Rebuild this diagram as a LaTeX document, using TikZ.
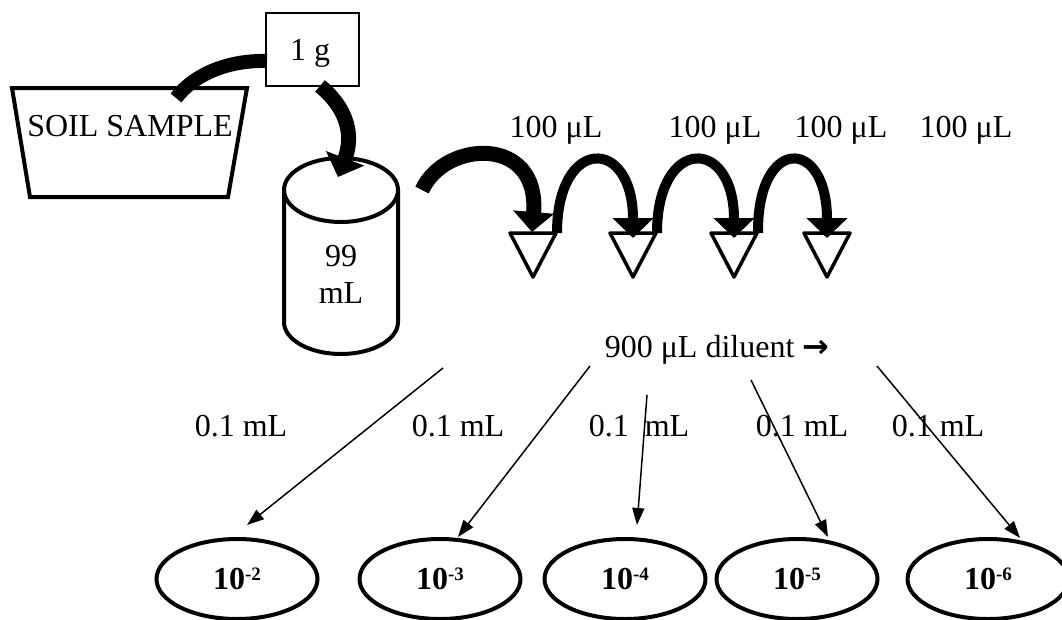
\documentclass[tikz,border=0pt]{standalone}
\usepackage{fontspec}
\setmainfont{Liberation Serif}
\newfontfamily\arrowfont{DejaVu Sans}
\usetikzlibrary{arrows.meta,shapes.geometric}
\newcommand{\dilexp}[1]{10\raisebox{9pt}{\fontsize{19}{21}\selectfont #1}}

\begin{document}
\begin{tikzpicture}[x=1pt,y=-1pt,
  font=\fontsize{32}{38}\selectfont,
  outline/.style={line width=4pt, line join=miter},
  tube/.style={line width=3.5pt, line join=round},
  scoop/.style={line width=14pt},
  lift/.style={line width=15pt, -{Triangle[length=20pt,width=40pt]}},
  hop/.style={line width=10pt, -{Triangle[length=20pt,width=40pt]}},
  pour/.style={line width=1.5pt, -{Triangle[length=17pt,width=12pt]}},
  lbl/.style={inner sep=0pt, anchor=base},
  plate/.style={ellipse, draw, line width=4pt, minimum width=161pt,
    minimum height=80pt, inner sep=0pt,
    font=\bfseries\fontsize{32}{36}\selectfont}]
\useasboundingbox (0,0) rectangle (1062,619);

% soil container
\draw[outline] (12,88) -- (247,88) -- (228,197) -- (30,197) -- cycle;
\node[lbl] (soil) at (130,136) {SOIL SAMPLE};

% weighed portion
\node[draw, line width=1.3pt, minimum width=93pt, minimum height=73pt,
  inner sep=0pt] (gram) at (312.5,49.5) {};
\node[lbl] (gramtxt) at (310,60) {1 g};

% dilution bottle
\draw[outline] (341,190) ellipse [x radius=57pt, y radius=32pt];
\draw[outline] (284,190) -- (284,322)
  .. controls (284,339.7) and (309.5,354) .. (341,354)
  .. controls (372.5,354) and (398,339.7) .. (398,322) -- (398,190);
\node[lbl] (vol) at (341,266) {99};
\node[lbl] (volunit) at (341,303) {mL};

% dilution tubes
\foreach \i/\x in {1/533,2/633,3/734,4/827}{
  \draw[tube] ({\x-23},233) -- ({\x+23},233) -- (\x,277) -- cycle;
  \coordinate (top\i) at (\x,238);
  \coordinate (rim\i) at ({\x+24},233);
}

% transfer arrows
\coordinate (scoopend) at (176,98);
\coordinate (gramside) at (267,61);
\coordinate (gramfoot) at (320,86);
\coordinate (bottletop) at (338,177);
\coordinate (bottleside) at (422,190);
\draw[scoop] (gramside) .. controls (230,60) and (195,73) .. (scoopend);
\draw[lift] (gramfoot) .. controls (347,108) and (354,135) .. (bottletop);
\draw[lift] (bottleside) .. controls (445,140) and (540,135) .. (532,232);
\draw[hop] (rim1) .. controls (557,136) and (633,136) .. (top2);
\draw[hop] (rim2) .. controls (657,136) and (734,136) .. (top3);
\draw[hop] (rim3) .. controls (757,136) and (827,136) .. (top4);

% transfer volumes
\node[lbl] (v1) at (556,137) {100 μL};
\node[lbl] (v2) at (715,137) {100 μL};
\node[lbl] (v3) at (841,137) {100 μL};
\node[lbl] (v4) at (966,137) {100 μL};

\node[lbl] (diluent) at (717,357) {900 μL diluent {\arrowfont\bfseries →}};

% plates
\node[plate] (p2) at (237,579) {\dilexp{-2}};
\node[plate] (p3) at (440,579) {\dilexp{-3}};
\node[plate] (p4) at (625,579) {\dilexp{-4}};
\node[plate] (p5) at (797,579) {\dilexp{-5}};
\node[plate] (p6) at (988,579) {\dilexp{-6}};

% plating lines
\coordinate (s2) at (443,368);
\coordinate (s3) at (590,366);
\coordinate (s4) at (647,395);
\coordinate (s5) at (751,380);
\coordinate (s6) at (877,366);
\coordinate (d2) at (247,525);
\coordinate (d3) at (458,537);
\coordinate (d4) at (637,525);
\coordinate (d5) at (828,537);
\coordinate (d6) at (1020,538);
\foreach \k in {2,...,6}{\draw[pour] (s\k) -- (d\k);}

\node[lbl] (q2) at (241,436) {0.1 mL};
\node[lbl] (q3) at (458,436) {0.1 mL};
\node[lbl] (q4) at (639,436) {0.1\ \ mL};
\node[lbl] (q5) at (802,436) {0.1 mL};
\node[lbl] (q6) at (938,436) {0.1 mL};
\end{tikzpicture}
\end{document}
